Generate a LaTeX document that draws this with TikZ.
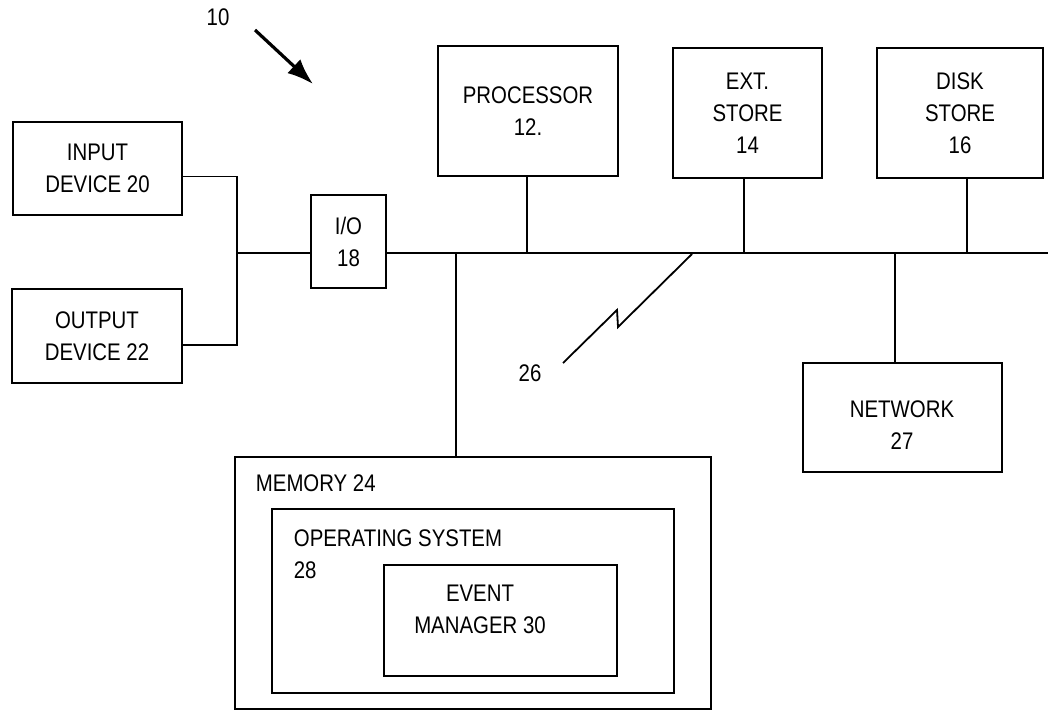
\documentclass[tikz,border=0pt]{standalone}
\usepackage{fontspec}
\setmainfont{Liberation Sans}[FakeStretch=0.85]
\usepackage{tikz}
\usetikzlibrary{arrows.meta}

\begin{document}
\begin{tikzpicture}[x=1pt,y=-1pt,line width=1.8pt,
    every node/.style={inner sep=0pt,font=\fontsize{24}{32}\selectfont},
    unit/.style={draw,line width=2pt,align=center},
    bus/.style={line width=2.8pt}]
  \useasboundingbox (0,0) rectangle (1048,712);
  % units on the left
  \node[unit,minimum width=169pt,minimum height=93pt] (in) at (97.5,168.5) {INPUT\\DEVICE 20};
  \node[unit,minimum width=170pt,minimum height=94pt] (out) at (97,336) {OUTPUT\\DEVICE 22};
  \node[unit,minimum width=75pt,minimum height=93pt] (io) at (348.5,241.5) {I/O\\18};
  \coordinate (join) at (237,253);
  \draw ([yshift=-8pt]in.east) -| (join) |- ([yshift=-9pt]out.east);
  \draw[bus] (join) -- (io.west |- join);
  % bus
  \coordinate (busend) at (1048,253);
  \draw[bus] (io.east |- busend) -- (busend);
  % units on the bus
  \node[unit,minimum width=180pt,minimum height=130pt] (proc) at (528,111) {PROCESSOR\\12.};
  \node[unit,minimum width=149pt,minimum height=130pt] (ext) at (747.5,113) {EXT.\\STORE\\14};
  \node[unit,minimum width=166pt,minimum height=130pt] (disk) at (960,113) {DISK\\STORE\\16};
  \draw (proc.south -| 527,0) -- (527,253);
  \draw (ext.south -| 744,0) -- (744,253);
  \draw (disk.south -| 967,0) -- (967,253);
  \node[unit,minimum width=199pt,minimum height=109pt] (net) at (902.5,417.5) {};
  \node[align=center] (netlabel) at (902,425) {NETWORK\\27};
  \draw (895,253) -- (net.north -| 895,0);
  % memory
  \node[unit,minimum width=476pt,minimum height=252pt] (mem) at (473,583) {};
  \node[unit,minimum width=402pt,minimum height=184pt] (os) at (473,601) {};
  \node[unit,minimum width=233pt,minimum height=111pt] (evt) at (500.5,620.5) {};
  \node[anchor=west] (memlabel) at (255,483) {MEMORY 24};
  \node[anchor=west,align=left] (oslabel) at (293,554) {OPERATING SYSTEM\\28};
  \node[align=center] (evtlabel) at (480,609) {EVENT\\MANAGER 30};
  \draw (456,253) -- (mem.north -| 456,0);
  % reference numerals
  \node (ten) at (218,17) {10};
  \coordinate (tena) at (255,30);
  \coordinate (tenb) at (313,84);
  \draw[line width=3.2pt,-{Latex[length=26pt,width=19pt]}] (tena) -- (tenb);
  \node (twentysix) at (530,373) {26};
  \coordinate (zz) at (563,363);
  \draw (zz) -- (617,310) -- (618,327) -- (692,254);
\end{tikzpicture}
\end{document}
